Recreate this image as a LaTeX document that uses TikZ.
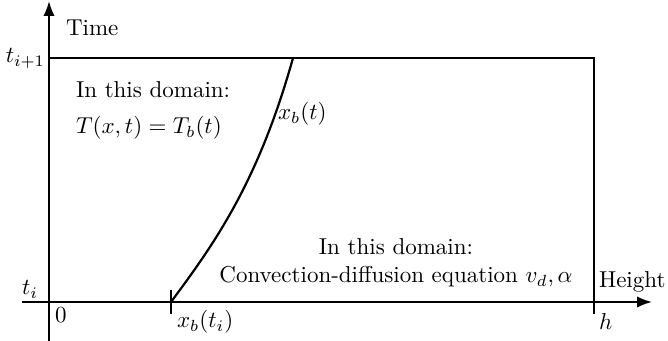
\documentclass[tikz,border=0pt]{standalone}
\usetikzlibrary{arrows.meta}
\begin{document}
\begin{tikzpicture}[x=0.4348pt,y=-0.4348pt,
  ln/.style={line width=0.95pt},
  axis/.style={ln,-{Latex[length=6.5pt,width=5pt]}},
  lbl/.style={inner sep=0pt,outer sep=0pt}]
\useasboundingbox (0,0) rectangle (668,341);
% corner coordinates
\coordinate (ybot) at (49,341);
\coordinate (ytop) at (49,1);
\coordinate (xleft) at (22,302);
\coordinate (xright) at (652,302);
\coordinate (tl) at (49,58);
\coordinate (tr) at (594,58);
\coordinate (br) at (594,314);
\coordinate (tickt) at (171,290);
\coordinate (tickb) at (171,314);
\coordinate (cb) at (171,302);
\coordinate (ct) at (293,58);
% axes
\draw[axis] (ybot) -- (ytop);
\draw[axis] (xleft) -- (xright);
% domain box
\draw[ln] (tl) -- (tr) -- (br);
\draw[ln] (tickt) -- (tickb);
% boundary curve
\draw[ln] (cb) .. controls (214,244) and (258,183) .. (ct);
% labels
\node[lbl,anchor=base west] (time) at (66,36) {Time};
\node[lbl,anchor=base east] (ti1) at (45,63) {$t_{i+1}$};
\node[lbl,anchor=base east] (ti) at (38,295) {$t_i$};
\node[lbl,anchor=base west] (zero) at (55,323) {$0$};
\node[lbl,anchor=base west] (xbti) at (177,328) {$x_b(t_i)$};
\node[lbl,anchor=base west] (h) at (599,330) {$h$};
\node[lbl,anchor=base west] (height) at (599,288) {Height};
\node[lbl,anchor=base west] (xbt) at (278,120) {$x_b(t)$};
\node[lbl,anchor=base west] (d1a) at (76,98) {In this domain:};
\node[lbl,anchor=base west] (d1b) at (76,134) {$T(x,t)=T_b(t)$};
\node[lbl,anchor=base] (d2a) at (396,255) {In this domain:};
\node[lbl,anchor=base] (d2b) at (396,283) {Convection-diffusion equation $v_d,\alpha$};
\end{tikzpicture}
\end{document}
